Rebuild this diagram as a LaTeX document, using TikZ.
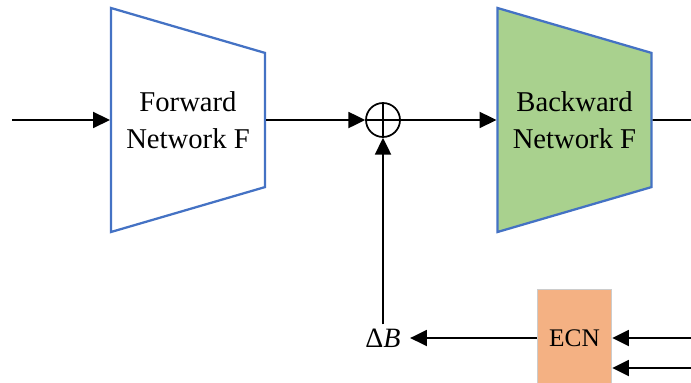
\documentclass[tikz,border=0pt]{standalone}
\usepackage{fontspec}
\setmainfont{Liberation Serif}
\usetikzlibrary{positioning,shapes.geometric,arrows.meta}
\definecolor{netline}{HTML}{4472C4}
\definecolor{netgreen}{HTML}{A9D18E}
\definecolor{ecncol}{HTML}{F4B183}
\tikzset{
  netbox/.style  = {trapezium, shape border rotate=270, trapezium stretches body,
                    trapezium left angle=70, trapezium right angle=70,
                    minimum width=168pt, minimum height=115.5pt,
                    draw=netline, line width=1.7pt, align=center, inner sep=0pt,
                    font=\fontsize{21.5}{27.5}\selectfont},
  sumnode/.style = {circle, draw, line width=1.3pt, minimum size=25.5pt, inner sep=0pt,
                    path picture={\draw[line width=1.1pt]
                      (path picture bounding box.north) -- (path picture bounding box.south)
                      (path picture bounding box.west) -- (path picture bounding box.east);}},
  ecnbox/.style  = {draw=black!20, line width=0.6pt, fill=ecncol,
                    minimum width=56pt, minimum height=73.5pt,
                    font=\fontsize{19}{23}\selectfont},
  flow/.style    = {-{Triangle[length=12.5pt,width=12pt]}, line width=1.4pt},
  plain/.style   = {line width=1.4pt},
}

\begin{document}
\begin{tikzpicture}[x=0.75pt, y=-0.75pt]
    \useasboundingbox (0,0) rectangle (691,382);

    % ---------------- networks
    \node[netbox, fill=white] (fwd) at (188,120) {Forward\\Network F};
    \node[sumnode] (sum) at (383,120) {};
    \node[netbox, fill=netgreen] (bwd) at (574.5,120) {Backward\\Network F};

    \coordinate (in)  at (12,120);
    \coordinate (out) at (691,120);

    \foreach \a/\b in {in/fwd, fwd/sum, sum/bwd} {\draw[flow] (\a) -- (\b);}
    \draw[plain] (bwd) -- (out);

    % ---------------- correction branch
    \node[ecnbox] (ecn) at (574.5,338) {ECN};
    \node[font=\fontsize{21}{25}\selectfont, inner xsep=7pt, inner ysep=3pt]
      (db) at (383,338) {Δ\textit{B}};

    \coordinate (r1) at (691,338);
    \coordinate (r2) at (691,368);

    \foreach \a/\b in {ecn/db, db/sum, r1/ecn} {\draw[flow] (\a) -- (\b);}
    \draw[flow] (r2) -- (r2 -| ecn.east);
  \end{tikzpicture}
\end{document}
